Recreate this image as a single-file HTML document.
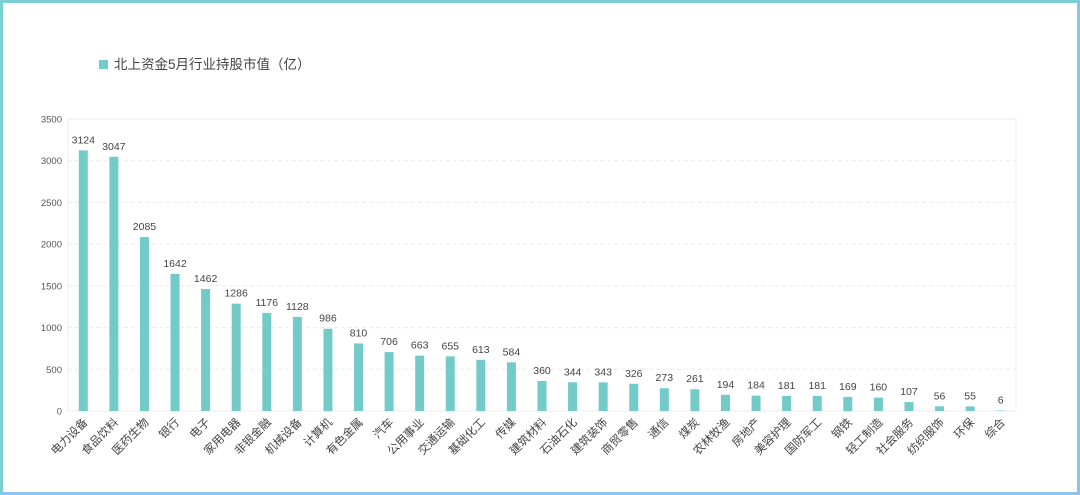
<!DOCTYPE html>
<html><head><meta charset="utf-8"><style>
html,body{margin:0;padding:0;background:#fff}
#wrap{position:relative;width:1080px;height:495px;box-sizing:border-box;border:3px solid #79cfd2;border-bottom-color:#8ec2ee;border-right-color:#84c9e0;background:#fff;overflow:hidden}
svg{position:absolute;left:-3px;top:-3px}
text{font-family:"Liberation Sans","Noto Sans CJK SC",sans-serif}
</style></head><body>
<div id="wrap">
<svg id="chart" width="1080" height="495"></svg>
</div>
<script>
const categories=["电力设备","食品饮料","医药生物","银行","电子","家用电器","非银金融","机械设备","计算机","有色金属","汽车","公用事业","交通运输","基础化工","传媒","建筑材料","石油石化","建筑装饰","商贸零售","通信","煤炭","农林牧渔","房地产","美容护理","国防军工","钢铁","轻工制造","社会服务","纺织服饰","环保","综合"];
const values=[3124,3047,2085,1642,1462,1286,1176,1128,986,810,706,663,655,613,584,360,344,343,326,273,261,194,184,181,181,169,160,107,56,55,6];
const yTicks=[0,500,1000,1500,2000,2500,3000,3500];
const NS="http://www.w3.org/2000/svg";
const svg=document.getElementById('chart');
const L=68,R=1016,T=119,B=411,yMax=3500;
const y=v=>B-(v/yMax)*(B-T);
const bw=(R-L)/categories.length;
const x=i=>L+bw*(i+0.5);
function mk(tag,attrs,txt){const e=document.createElementNS(NS,tag);for(const k in attrs)e.setAttribute(k,attrs[k]);if(txt!==undefined)e.textContent=txt;svg.appendChild(e);return e;}
// legend
let e=mk('rect',{x:99,y:60,width:9,height:9,fill:'#72cbc9'});


e=mk('text',{x:114,y:69,'font-size':13.5,fill:'#444'},'北上资金5月行业持股市值（亿）');


// grid
yTicks.forEach(t=>{
  const g=mk('line',{x1:L,x2:R,y1:y(t),y2:y(t),stroke:'#ececec','stroke-dasharray':t===0||t===yMax?'':'4,3'});
  
  
  const l=mk('text',{x:L-6,y:y(t)+3.5,'font-size':9.5,fill:'#555','text-anchor':'end'},t);
  
  
});
e=mk('line',{x1:L,x2:L,y1:T,y2:B,stroke:'#ececec'});


e=mk('line',{x1:R,x2:R,y1:T,y2:B,stroke:'#ececec'});


categories.forEach((c,i)=>{
  const cx=x(i),v=values[i];
  const r=mk('rect',{x:cx-4.5,y:y(v),width:9,height:B-y(v),fill:'#72cbc9'});
  
  
  const t=mk('text',{x:cx,y:y(v)-7,'font-size':10.5,fill:'#444','text-anchor':'middle'},v);
  
  
  const lb=mk('text',{x:cx+5,y:423,'font-size':11.5,fill:'#444','text-anchor':'end',transform:`rotate(-45 ${cx+5} 423)`},c);
  
  
});
</script>
</body></html>
